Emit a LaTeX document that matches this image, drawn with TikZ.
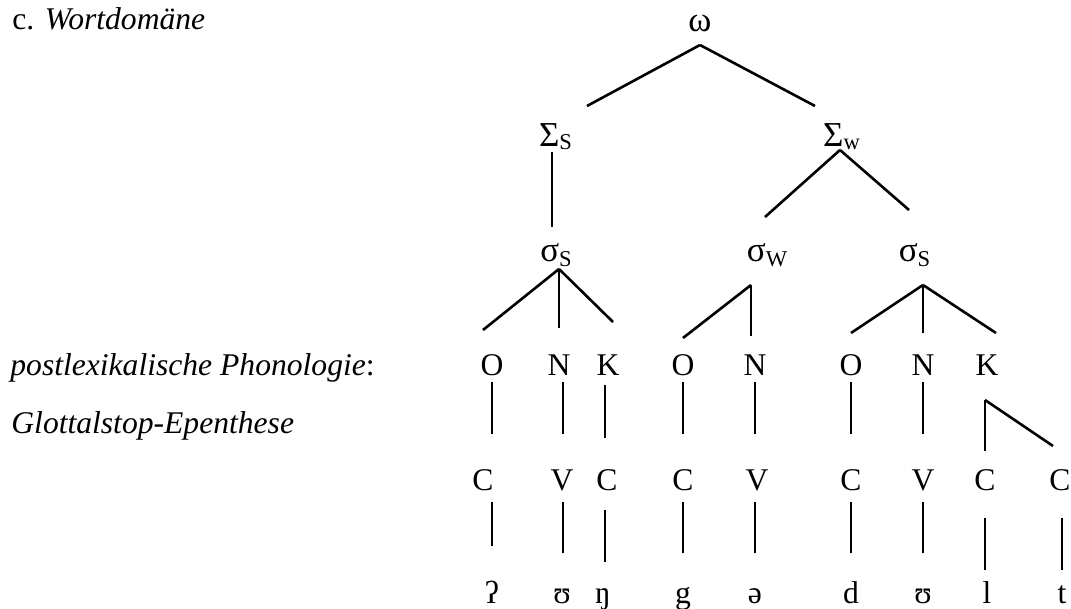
\documentclass[tikz,border=0pt]{standalone}
\usepackage{fontspec}
\setmainfont{Liberation Serif}
\usetikzlibrary{calc}
\newcommand{\lowsub}[2][2pt]{\raisebox{-#1}{\fontsize{11.3}{12}\selectfont #2}}
\newcommand{\grk}[1]{{\fontsize{17.5}{19}\selectfont #1}}

\begin{document}
\begin{tikzpicture}[
  x=0.5pt, y=-0.5pt,
  unit/.style={inner sep=0pt, anchor=base, font=\fontsize{15.8}{19}\selectfont},
  note/.style={inner sep=0pt, anchor=base west, font=\fontsize{15.8}{19}\selectfont},
  link/.style={line width=1.3pt, black}
]
\useasboundingbox (0,0) rectangle (1071,609);

% labels on the left
\node[note] (title) at (12,30) {c. \textit{Wortdomäne}};
\node[note] (post) at (10,375) {\textit{postlexikalische Phonologie}:};
\node[note] (glot) at (11,433) {\textit{Glottalstop-Epenthese}};

% word, feet, syllables
\node[unit] (om) at (700,32) {\grk{ω}};
\node[unit] (Ss) at (555.5,147) {\grk{Σ}\lowsub[1.5pt]{S}};
\node[unit] (Sw) at (841.5,147) {\grk{Σ}\lowsub[1.5pt]{w}};
\node[unit] (sS1) at (556,262) {\grk{σ}\lowsub[2.4pt]{S}};
\node[unit] (sW) at (767,262) {\grk{σ}\lowsub[2.4pt]{W}};
\node[unit] (sS3) at (914.5,262) {\grk{σ}\lowsub[2.4pt]{S}};

% onset, nucleus, coda
\node[unit] (O1) at (492,375) {O};
\node[unit] (N1) at (559,375) {N};
\node[unit] (K1) at (608,375) {K};
\node[unit] (O2) at (683,375) {O};
\node[unit] (N2) at (755,375) {N};
\node[unit] (O3) at (851,375) {O};
\node[unit] (N3) at (923,375) {N};
\node[unit] (K3) at (987,375) {K};

% skeleton
\node[unit] (C1) at (483,490) {C};
\node[unit] (V1) at (562,490) {V};
\node[unit] (C2) at (607,490) {C};
\node[unit] (C3) at (683,490) {C};
\node[unit] (V2) at (757,490) {V};
\node[unit] (C4) at (851,490) {C};
\node[unit] (V3) at (923,490) {V};
\node[unit] (C5) at (985,490) {C};
\node[unit] (C6) at (1060,490) {C};

% segments
\node[unit] (ph1) at (492,603) {ʔ};
\node[unit] (ph2) at (562,603) {ʊ};
\node[unit] (ph3) at (603,603) {ŋ};
\node[unit] (ph4) at (683,603) {g};
\node[unit] (ph5) at (755,603) {ə};
\node[unit] (ph6) at (851,603) {d};
\node[unit] (ph7) at (923,603) {ʊ};
\node[unit] (ph8) at (987,603) {l};
\node[unit] (ph9) at (1062,603) {t};

% word to feet
\draw[link] ($(om.base)+(0,13)$) -- ($(Ss.base)+(31.5,-41)$);
\draw[link] ($(om.base)+(0,13)$) -- ($(Sw.base)+(-26.5,-41)$);

% feet to syllables
\draw[link] ($(Ss.base)+(-3.5,5)$) -- ($(sS1.base)+(-4,-35)$);
\draw[link] ($(Sw.base)+(-1.5,3)$) -- ($(sW.base)+(-2,-45)$);
\draw[link] ($(Sw.base)+(-1.5,3)$) -- ($(sS3.base)+(-5.5,-52)$);

% syllables to O, N, K
\draw[link] ($(sS1.base)+(3,7)$) -- ($(O1.base)+(-9,-45)$);
\draw[link] ($(sS1.base)+(3,7)$) -- ($(N1.base)+(0,-47)$);
\draw[link] ($(sS1.base)+(3,7)$) -- ($(K1.base)+(5,-53)$);
\draw[link] ($(sW.base)+(-16,23)$) -- ($(O2.base)+(0,-37)$);
\draw[link] ($(sW.base)+(-16,23)$) -- ($(N2.base)+(-4,-39)$);
\draw[link] ($(sS3.base)+(8.5,23)$) -- ($(O3.base)+(0,-42)$);
\draw[link] ($(sS3.base)+(8.5,23)$) -- ($(N3.base)+(0,-42)$);
\draw[link] ($(sS3.base)+(8.5,23)$) -- ($(K3.base)+(9,-42)$);

% O, N, K to skeleton
\draw[link] ($(O1.base)+(0,7)$) -- ($(C1.base)+(9,-56)$);
\draw[link] ($(N1.base)+(4,7)$) -- ($(V1.base)+(1,-56)$);
\draw[link] ($(K1.base)+(-3,10)$) -- ($(C2.base)+(-2,-52)$);
\draw[link] ($(O2.base)+(0,7)$) -- ($(C3.base)+(0,-56)$);
\draw[link] ($(N2.base)+(0,7)$) -- ($(V2.base)+(-2,-56)$);
\draw[link] ($(O3.base)+(0,7)$) -- ($(C4.base)+(0,-56)$);
\draw[link] ($(N3.base)+(0,7)$) -- ($(V3.base)+(0,-56)$);
\draw[link] ($(K3.base)+(-2,25)$) -- ($(C5.base)+(0,-39)$);
\draw[link] ($(K3.base)+(-2,25)$) -- ($(C6.base)+(-7,-44)$);

% skeleton to segments
\draw[link] ($(C1.base)+(9,12)$) -- ($(ph1.base)+(0,-57)$);
\draw[link] ($(V1.base)+(1,12)$) -- ($(ph2.base)+(1,-50)$);
\draw[link] ($(C2.base)+(-2,20)$) -- ($(ph3.base)+(2,-41)$);
\draw[link] ($(C3.base)+(0,12)$) -- ($(ph4.base)+(0,-50)$);
\draw[link] ($(V2.base)+(-2,12)$) -- ($(ph5.base)+(0,-50)$);
\draw[link] ($(C4.base)+(0,12)$) -- ($(ph6.base)+(0,-50)$);
\draw[link] ($(V3.base)+(0,12)$) -- ($(ph7.base)+(0,-50)$);
\draw[link] ($(C5.base)+(0,28)$) -- ($(ph8.base)+(-2,-33)$);
\draw[link] ($(C6.base)+(2,28)$) -- ($(ph9.base)+(0,-33)$);

\end{tikzpicture}
\end{document}
